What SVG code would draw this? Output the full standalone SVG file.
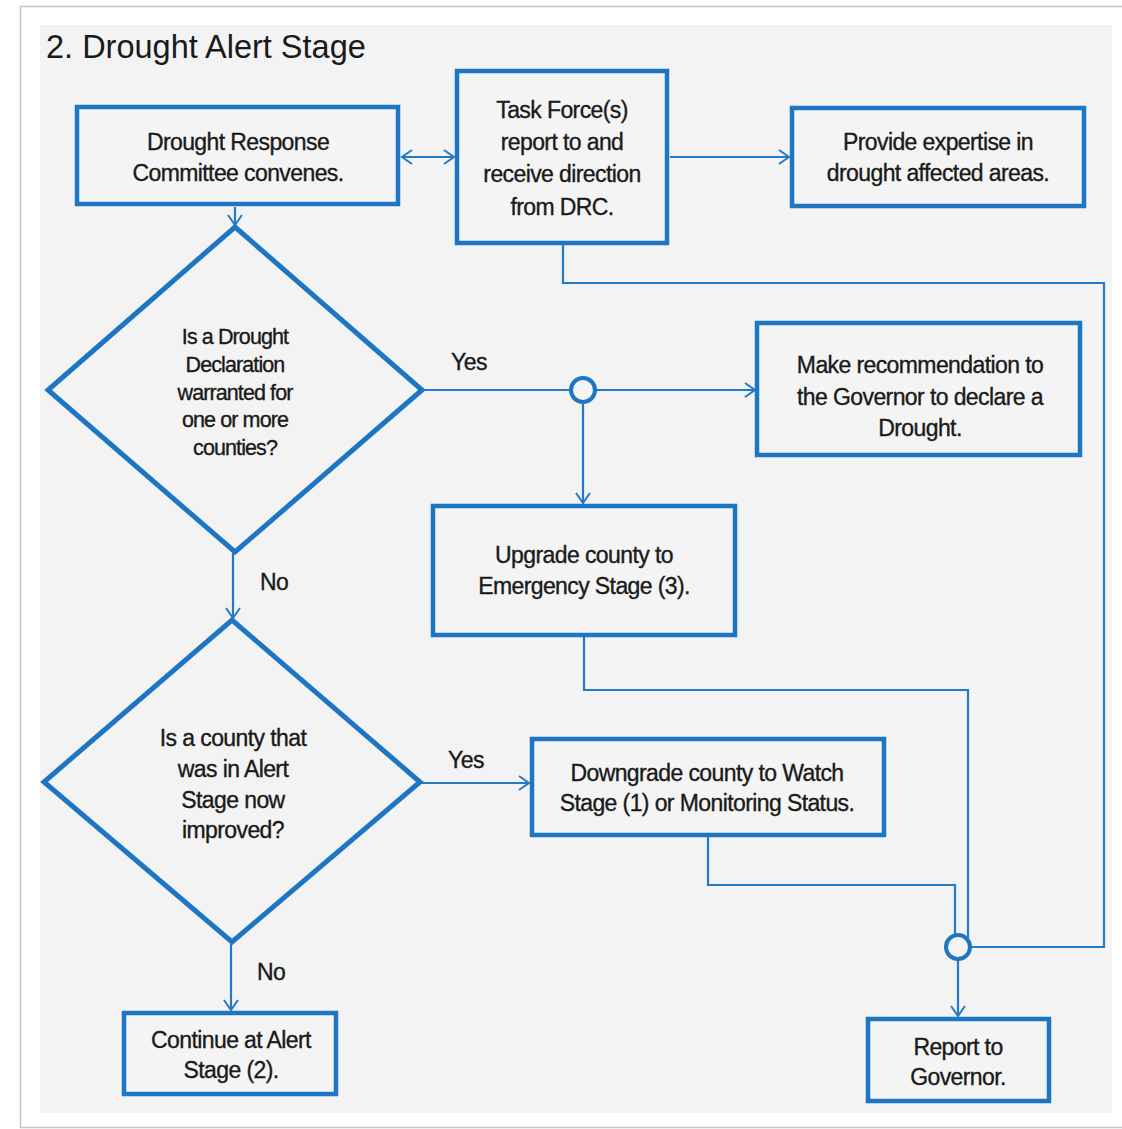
<svg xmlns="http://www.w3.org/2000/svg" width="1122" height="1129" viewBox="0 0 1122 1129">
<style>
.box{fill:#f4f4f4;stroke:#1c76c4;stroke-width:4.5}
.dia{fill:none;stroke:#1c76c4;stroke-width:5;stroke-linejoin:miter}
.ln{fill:none;stroke:#2679c5;stroke-width:2.2}
.jn{fill:#f4f4f4;stroke:#1c76c4;stroke-width:4}
.t{font-family:"Liberation Sans",Arial,sans-serif;font-size:23px;fill:#1a1a1a;stroke:#1a1a1a;stroke-width:0.35;text-anchor:middle;letter-spacing:-0.6px}
.q{font-family:"Liberation Sans",Arial,sans-serif;font-size:21.5px;fill:#1a1a1a;stroke:#1a1a1a;stroke-width:0.35;text-anchor:middle;letter-spacing:-0.9px}
.q2{font-family:"Liberation Sans",Arial,sans-serif;font-size:23px;fill:#1a1a1a;stroke:#1a1a1a;stroke-width:0.35;text-anchor:middle;letter-spacing:-0.6px}
.lb{font-family:"Liberation Sans",Arial,sans-serif;font-size:23px;fill:#1a1a1a;stroke:#1a1a1a;stroke-width:0.35;letter-spacing:-0.5px}
.title{font-family:"Liberation Sans",Arial,sans-serif;font-size:32.5px;fill:#1a1a1a}
</style>
<defs>
<marker id="arr" markerUnits="userSpaceOnUse" markerWidth="14" markerHeight="18" refX="11" refY="8" orient="auto-start-reverse">
<path d="M1,1 L11,8 L1,15" fill="none" stroke="#2679c5" stroke-width="2"/>
</marker>
</defs>
<rect x="0" y="0" width="1122" height="1129" fill="#ffffff"/>
<rect x="20.5" y="6.5" width="1110" height="1121" fill="#ffffff" stroke="#c4c4c4" stroke-width="1.5"/>
<rect x="40" y="25" width="1072" height="1088" fill="#f3f3f3"/>
<text class="title" x="46" y="58">2. Drought Alert Stage</text>

<g id="connectors">
<path class="ln" d="M402,157 H454" marker-start="url(#arr)" marker-end="url(#arr)"/>
<path class="ln" d="M670,157 H789" marker-end="url(#arr)"/>
<path class="ln" d="M563,245 V283 H1104 V947 H971"/>
<path class="ln" d="M235,207 V225" marker-end="url(#arr)"/>
<path class="ln" d="M422,390 H570"/>
<path class="ln" d="M596,390 H755" marker-end="url(#arr)"/>
<path class="ln" d="M583,403 V503" marker-end="url(#arr)"/>
<path class="ln" d="M233,553 V618" marker-end="url(#arr)"/>
<path class="ln" d="M584,637 V690 H968 V938"/>
<path class="ln" d="M420,783 H529" marker-end="url(#arr)"/>
<path class="ln" d="M708,837 V885 H955 V934"/>
<path class="ln" d="M958,960 V1016" marker-end="url(#arr)"/>
<path class="ln" d="M231,943 V1010" marker-end="url(#arr)"/>
<circle class="jn" cx="583" cy="390" r="12"/>
<circle class="jn" cx="958" cy="947" r="12"/>
<text class="lb" x="451" y="370">Yes</text>
<text class="lb" x="260" y="590">No</text>
<text class="lb" x="448" y="768">Yes</text>
<text class="lb" x="257" y="980">No</text>
</g>

<g id="drc">
<rect class="box" x="77" y="107" width="321" height="97"/>
<text class="t" x="238" y="150">Drought Response</text>
<text class="t" x="238" y="181">Committee convenes.</text>
</g>

<g id="taskforce">
<rect class="box" x="457" y="71" width="210" height="172"/>
<text class="t" x="562" y="118">Task Force(s)</text>
<text class="t" x="562" y="150">report to and</text>
<text class="t" x="562" y="182">receive direction</text>
<text class="t" x="562" y="215">from DRC.</text>
</g>

<g id="expertise">
<rect class="box" x="792" y="108" width="292" height="98"/>
<text class="t" x="938" y="150">Provide expertise in</text>
<text class="t" x="938" y="181">drought affected areas.</text>
</g>

<g id="decision1">
<polygon class="dia" points="235,227 422,390 235,552 48,390"/>
<text class="q" x="235" y="344">Is a Drought</text>
<text class="q" x="235" y="372">Declaration</text>
<text class="q" x="235" y="400">warranted for</text>
<text class="q" x="235" y="427">one or more</text>
<text class="q" x="235" y="455">counties?</text>
</g>

<g id="recommend">
<rect class="box" x="757" y="323" width="323" height="132"/>
<text class="t" x="920" y="373">Make recommendation to</text>
<text class="t" x="920" y="405">the Governor to declare a</text>
<text class="t" x="920" y="436">Drought.</text>
</g>

<g id="upgrade">
<rect class="box" x="433" y="506" width="302" height="129"/>
<text class="t" x="584" y="563">Upgrade county to</text>
<text class="t" x="584" y="594">Emergency Stage (3).</text>
</g>

<g id="decision2">
<polygon class="dia" points="232,620 420,782 232,942 44,782"/>
<text class="q2" x="233" y="746">Is a county that</text>
<text class="q2" x="233" y="777">was in Alert</text>
<text class="q2" x="233" y="808">Stage now</text>
<text class="q2" x="233" y="838">improved?</text>
</g>

<g id="downgrade">
<rect class="box" x="532" y="739" width="352" height="96"/>
<text class="t" x="707" y="781">Downgrade county to Watch</text>
<text class="t" x="707" y="811">Stage (1) or Monitoring Status.</text>
</g>

<g id="continue">
<rect class="box" x="124" y="1013" width="212" height="81"/>
<text class="t" x="231" y="1048">Continue at Alert</text>
<text class="t" x="231" y="1078">Stage (2).</text>
</g>

<g id="report">
<rect class="box" x="868" y="1019" width="181" height="82"/>
<text class="t" x="958" y="1055">Report to</text>
<text class="t" x="958" y="1085">Governor.</text>
</g>
</svg>
